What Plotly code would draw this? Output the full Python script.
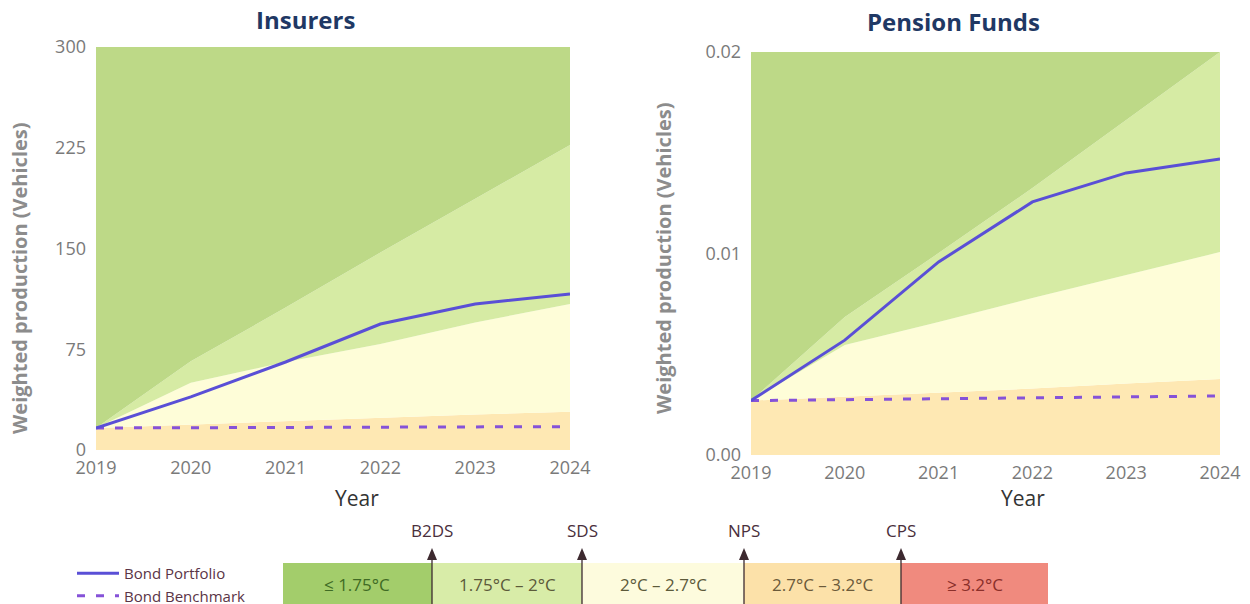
import plotly.graph_objects as go

# ---- data -------------------------------------------------------------
years = [2019, 2020, 2021, 2022, 2023, 2024]

# Insurers (weighted production, vehicles)
ins_portfolio = [16.4, 39.5, 65.5, 93.8, 108.7, 116.2]
ins_benchmark = [16.4, 16.6, 16.8, 17.0, 17.2, 17.4]
ins_b2ds = [16.4, 66.0, 106.0, 147.0, 187.0, 227.0]
ins_sds = [16.4, 50.0, 65.5, 79.0, 95.0, 108.7]
ins_nps = [16.4, 19.0, 21.5, 24.0, 26.5, 28.5]
ins_ymax = 300
ins_ticks = [0, 75, 150, 225, 300]

# Pension funds (weighted production, vehicles)
pen_portfolio = [0.0027, 0.0057, 0.00958, 0.01256, 0.0140, 0.01469]
pen_benchmark = [0.0027, 0.00275, 0.0028, 0.00284, 0.00289, 0.00293]
pen_b2ds = [0.0027, 0.00685, 0.01002, 0.01325, 0.01663, 0.0200]
pen_sds = [0.0027, 0.00546, 0.0066, 0.00779, 0.00893, 0.01007]
pen_nps = [0.0027, 0.0029, 0.0031, 0.0033, 0.00355, 0.00377]
pen_ymax = 0.02
pen_ticks = [0.0, 0.01, 0.02]

# Temperature scale below the charts
scale_labels = ["≤ 1.75°C", "1.75°C – 2°C", "2°C – 2.7°C", "2.7°C – 3.2°C", "≥ 3.2°C"]
scenario_labels = ["B2DS", "SDS", "NPS", "CPS"]

# ---- styling ------------------------------------------------------------
C_DARK_GREEN = "#bdd987"
C_LIGHT_GREEN = "#d6eba4"
C_YELLOW = "#fefdd8"
C_ORANGE = "#fee8b3"
C_PORTFOLIO = "#5a4fd6"
C_BENCHMARK = "#8552d8"
SCALE_COLORS = ["#a3cd6b", "#d8eca8", "#fdfbdd", "#fce1a9", "#f08a7e"]
SCALE_TEXT = ["#3f6b24", "#5c5a3a", "#5c5a3a", "#6b5a3a", "#8a2f2a"]
FONT = "Open Sans"

W, H = 1250, 604


def px_x(x):
    return x / W


def px_y(y):
    return (H - y) / H


fig = go.Figure()


def add_panel(xref, yref, nps, sds, b2ds, ymax, portfolio, benchmark, legend):
    ceiling = [ymax] * len(years)
    common = dict(x=years, xaxis=xref, yaxis=yref, mode="lines",
                  line=dict(width=0), hoverinfo="skip", showlegend=False)
    fig.add_trace(go.Scatter(y=nps, fill="tozeroy", fillcolor=C_ORANGE, **common))
    fig.add_trace(go.Scatter(y=sds, fill="tonexty", fillcolor=C_YELLOW, **common))
    fig.add_trace(go.Scatter(y=b2ds, fill="tonexty", fillcolor=C_LIGHT_GREEN, **common))
    fig.add_trace(go.Scatter(y=ceiling, fill="tonexty", fillcolor=C_DARK_GREEN, **common))
    fig.add_trace(go.Scatter(x=years, y=benchmark, xaxis=xref, yaxis=yref, mode="lines",
                             name="Bond Benchmark", showlegend=legend,
                             line=dict(color=C_BENCHMARK, width=3, dash="8px,11px")))
    fig.add_trace(go.Scatter(x=years, y=portfolio, xaxis=xref, yaxis=yref, mode="lines",
                             name="Bond Portfolio", showlegend=legend,
                             line=dict(color=C_PORTFOLIO, width=3)))


add_panel("x", "y", ins_nps, ins_sds, ins_b2ds, ins_ymax, ins_portfolio, ins_benchmark, True)
add_panel("x2", "y2", pen_nps, pen_sds, pen_b2ds, pen_ymax, pen_portfolio, pen_benchmark, False)

tick_font = dict(family=FONT, size=18, color="#7a7a7a")
xaxis_common = dict(range=[2019, 2024], tickvals=years, showgrid=False, zeroline=False,
                    showline=False, tickfont=tick_font, ticks="", ticklabelstandoff=5,
                    fixedrange=True, automargin=False)
yaxis_common = dict(showgrid=False, zeroline=False, showline=False, tickfont=tick_font,
                    ticks="", ticklabelstandoff=9, fixedrange=True, automargin=False)

fig.update_layout(
    width=W, height=H,
    margin=dict(l=0, r=0, t=0, b=0, pad=0, autoexpand=False),
    paper_bgcolor="white", plot_bgcolor="white",
    xaxis=dict(domain=[px_x(96), px_x(570)], anchor="y", **xaxis_common),
    yaxis=dict(domain=[px_y(450), px_y(47)], anchor="x", range=[0, ins_ymax],
               tickvals=ins_ticks, **yaxis_common),
    xaxis2=dict(domain=[px_x(751), px_x(1220)], anchor="y2", **xaxis_common),
    yaxis2=dict(domain=[px_y(455), px_y(52)], anchor="x2", range=[0, pen_ymax],
                tickvals=pen_ticks, tickformat=".2f", **yaxis_common),
    legend=dict(x=px_x(72), y=px_y(557), xanchor="left", yanchor="top",
                font=dict(family=FONT, size=15, color="#5a3446"),
                traceorder="reversed", tracegroupgap=0, bgcolor="rgba(0,0,0,0)",
                itemwidth=42),
    showlegend=True,
)

annotations = []


def note(text, cx, cy, size, color, angle=0):
    annotations.append(dict(text=text, x=px_x(cx), y=px_y(cy), xref="paper",
                            yref="paper", xanchor="center", yanchor="middle",
                            showarrow=False, textangle=angle,
                            font=dict(family=FONT, size=size, color=color)))


# panel titles
note("<b>Insurers</b>", 305, 20, 24, "#1f3864")
note("<b>Pension Funds</b>", 953, 22, 24, "#1f3864")
# axis titles
for cx, cy in [(19, 278), (663, 258)]:
    note("<b>Weighted production (Vehicles)</b>", cx, cy, 20, "#8c8c8c", -90)
note("Year", 357, 498, 21, "#333333")
note("Year", 1023, 498, 21, "#333333")

# temperature scale bar
edges = [283, 432, 582, 744, 901, 1048]
bar_top, bar_bot = 563, 610
shapes = []
for i, label in enumerate(scale_labels):
    shapes.append(dict(type="rect", xref="paper", yref="paper",
                       x0=px_x(edges[i]), x1=px_x(edges[i + 1]),
                       y0=px_y(bar_bot), y1=px_y(bar_top),
                       fillcolor=SCALE_COLORS[i], line=dict(width=0), layer="above"))
    note(label, (edges[i] + edges[i + 1]) / 2, 584, 17, SCALE_TEXT[i])
for i, label in enumerate(scenario_labels):
    ex = edges[i + 1]
    shapes.append(dict(type="line", xref="paper", yref="paper",
                       x0=px_x(ex), x1=px_x(ex), y0=px_y(bar_bot), y1=px_y(556),
                       line=dict(color="#3d2a30", width=1.3), layer="above"))
    shapes.append(dict(type="path", xref="paper", yref="paper",
                       path=(f"M {px_x(ex - 5)} {px_y(560)} L {px_x(ex)} {px_y(548)} "
                             f"L {px_x(ex + 5)} {px_y(560)} Z"),
                       fillcolor="#3d2a30", line=dict(width=0), layer="above"))
    note(label, ex, 530, 17, "#4a2f3c")

fig.update_layout(annotations=annotations, shapes=shapes)

fig.write_html("out.html")
